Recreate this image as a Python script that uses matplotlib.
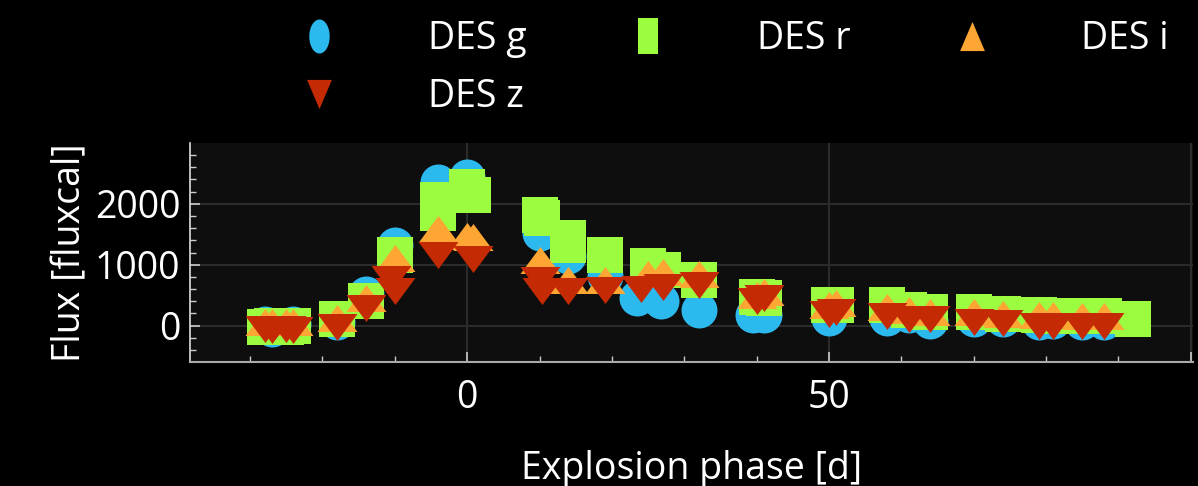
#!/usr/bin/env python3
import numpy as np
import matplotlib
matplotlib.use("Agg")
import matplotlib.pyplot as plt
from matplotlib.lines import Line2D
from matplotlib.path import Path

# --- data (phase in days, flux in fluxcal) ---
phase_g = [-28, -27, -24, -18, -14, -10, -4, 0, 10, 14, 19, 23.5, 26.8, 32,
           39.5, 41, 50, 58, 61, 64, 70, 74, 79, 81, 85, 88]
flux_g = [20, -50, 30, 50, 525, 1330, 2360, 2440, 1525, 1150, 820, 460, 410, 260,
          165, 165, 130, 130, 165, 80, 115, 100, 65, 70, 65, 65]

phase_r = [-28, -27, -25, -24, -18, -14, -10, -4, -4, 0, 0.8, 10, 10.3, 14, 14,
           19, 25, 27, 32, 40, 41, 50, 51, 58, 61, 64, 70, 74, 79, 81, 85, 88, 92]
flux_r = [-20, 0, -20, 0, 100, 410, 1165, 2065, 1850, 2280, 2150, 1820, 1770, 1445, 1330,
          1165, 970, 920, 755, 475, 445, 345, 330, 330, 260, 230, 215, 195, 165, 150, 150, 150, 100]

phase_i = [-28, -27, -25, -24, -18, -14, -10, -4, 0, 0.8, 10, 14, 19, 25, 27, 32,
           40, 41, 50, 51, 58, 61, 64, 70, 74, 79, 81, 85, 88]
flux_i = [50, 60, 50, 60, 130, 445, 1115, 1590, 1475, 1460, 1080, 740, 755, 850, 885, 850,
          500, 555, 345, 375, 310, 260, 230, 215, 195, 165, 170, 150, 150]

phase_z = [-28, -27, -25, -24, -18, -14, -10.5, -10, -4, 0.8, 10, 10.3, 14, 19, 24, 27, 32,
           40, 41, 50, 51, 58, 61, 64, 70, 74, 79, 81, 85, 88]
flux_z = [-60, -80, -60, -70, -30, 295, 770, 575, 1160, 1100, 740, 575, 575, 590, 605, 640, 670,
          395, 460, 195, 230, 150, 115, 100, 50, 35, -15, -15, -15, -15]

bands = ["DES g", "DES r", "DES i", "DES z"]
colors = ["#2cb9ee", "#9cfc40", "#fda634", "#c42a04"]

FONT = "Open Sans"
FS = 27


def tri(up=True, w=1.0, h=0.675):
    s = 1 if up else -1
    return Path([(0, s * h), (-w, -s * h), (w, -s * h), (0, s * h)], closed=True)


def ellipse(w, h):
    t = np.linspace(0, 2 * np.pi, 60)
    return Path(np.column_stack([w * np.cos(t), h * np.sin(t)]), closed=True)


def rect(w, h):
    return Path([(-w, -h), (w, -h), (w, h), (-w, h), (-w, -h)], closed=True)


plt.rcParams["font.family"] = [FONT, "DejaVu Sans"]

fig = plt.figure(figsize=(11.98, 4.86), dpi=100, facecolor="black")
ax = fig.add_axes([0.1586, 0.2551, 0.8372, 0.4507], facecolor="#0e0e0e")

# markers: plot ones (full size) and squashed legend ones
plot_markers = ["o", "s", tri(True), tri(False)]
plot_sizes = [25.9, 25.9, 28.8, 28.8]
leg_markers = [ellipse(0.6, 1.0), rect(0.556, 1.0), tri(True, 0.85, 1.0), tri(False, 0.85, 1.0)]
leg_sizes = [24.5, 26.0, 21.0, 21.0]

series = [(phase_g, flux_g), (phase_r, flux_r), (phase_i, flux_i), (phase_z, flux_z)]
for k, (xs, ys) in enumerate(series):
    ax.plot(xs, ys, linestyle="none", marker=plot_markers[k], markersize=plot_sizes[k],
            color=colors[k], markeredgewidth=0, zorder=3 + k)

ax.set_xlim(-38.3, 100.3)
ax.set_ylim(-600, 3000)
ax.set_xticks([0, 50, 100])
ax.set_xticklabels(["0", "50", ""])
ax.set_xticks(np.arange(-30, 100, 10), minor=True)
ax.set_yticks([0, 1000, 2000])
ax.set_yticks(np.arange(-400, 2900, 200), minor=True)

ax.grid(True, which="major", color="#2b2b2b", linewidth=1.5, zorder=0)
ax.set_axisbelow(True)

for side in ["top", "right"]:
    ax.spines[side].set_visible(False)
ax.spines["left"].set_color("#dddddd")
ax.spines["bottom"].set_color("#aaaaaa")
ax.spines["left"].set_linewidth(1.2)
ax.spines["bottom"].set_linewidth(1.5)

ax.tick_params(which="both", direction="in", colors="#cccccc", labelcolor="white", labelsize=FS)
ax.tick_params(which="major", length=7.5, width=1.2)
ax.tick_params(which="minor", length=4.5, width=1.0)
ax.tick_params(axis="x", pad=12)
ax.tick_params(axis="y", pad=7)

ax.set_xlabel("Explosion phase [d]", fontsize=FS, color="white", labelpad=24)
ax.set_ylabel("Flux [fluxcal]", fontsize=FS, color="white", labelpad=4)

# legend is filled column-wise, so order g, z | r | i gives rows g r i / z
order = [0, 3, 1, 2]
handles = [Line2D([], [], linestyle="none", marker=leg_markers[k], markersize=leg_sizes[k],
                  color=colors[k], markeredgewidth=0) for k in order]
labels = [bands[k] for k in order]
leg = fig.legend(handles, labels, loc="upper left", bbox_to_anchor=(0.238, 0.99),
                 ncol=3, frameon=False, fontsize=FS, handlelength=1.0,
                 handletextpad=2.4, columnspacing=2.75, labelspacing=0.55,
                 borderaxespad=0.0)
for t in leg.get_texts():
    t.set_color("white")

fig.savefig("out.png", dpi=100, facecolor="black")
